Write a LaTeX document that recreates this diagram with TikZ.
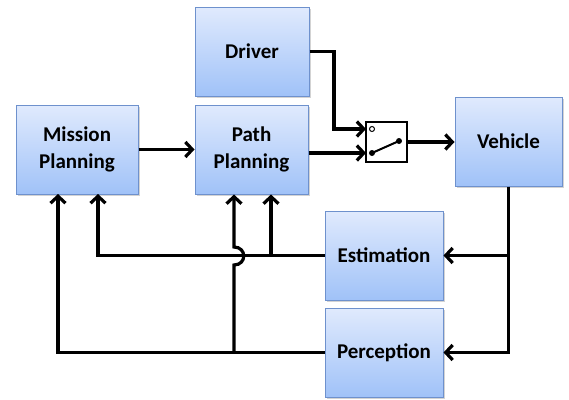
\documentclass[tikz,border=0pt]{standalone}
\usepackage{fontspec}
\setmainfont{Carlito}
\usetikzlibrary{arrows.meta,shadows,calc}
\definecolor{boxtop}{RGB}{224,234,253}
\definecolor{boxbot}{RGB}{160,194,248}
\definecolor{boxline}{RGB}{110,145,205}
\tikzset{
  block/.style={draw=boxline,line width=1pt,top color=boxtop,bottom color=boxbot,
    minimum height=89pt,inner sep=2pt,align=center,
    font=\fontsize{21}{27}\selectfont\bfseries,
    drop shadow={opacity=0.35,shadow xshift=1.5pt,shadow yshift=-1.5pt}},
  wire/.style={line width=3.2pt},
}
\begin{document}
\begin{tikzpicture}[x=1pt,y=-1pt,>={Straight Barb[length=7pt,width=15pt]},wire]
                          \useasboundingbox (0,0) rectangle (569,399);
                          \node[block,minimum width=122pt](mission) at (77,149.5){Mission\\Planning};
                          \node[block,minimum width=113pt](path) at (251.5,149.5){Path\\Planning};
                          \node[block,minimum width=114pt](driver) at (252,51.5){Driver};
                          \node[block,minimum width=107pt](vehicle) at (508.5,141.5){Vehicle};
                          \node[block,minimum width=118pt](estim) at (384,255.5){Estimation};
                          \node[block,minimum width=118pt](percep) at (384,352.5){Perception};
                          % switch
                          \node[draw,fill=white,line width=2pt,minimum width=41pt,minimum height=40pt,inner sep=0pt](switch) at (386.5,142){};
                          \coordinate (swA) at (366,129);
                          \coordinate (swB) at (366,153);
                          \draw[line width=1pt] (372,129) circle (2.5);
                          \fill (372,153) circle (3) (399,141) circle (3);
                          \draw[line width=2pt] (372,153)--(399,141);
                          \draw[->](mission.east)--(path.west);
                          \draw[->](driver.east)--(334,51.5)|-(swA);
                          \draw[->](path.east|-swB)--(swB);
                          \draw[->](switch.east)--(vehicle.west|-switch.east);
                          \draw[->](vehicle.south)|-(percep.east);
                          \draw[->](vehicle.south|-estim.east)--(estim.east);
                          \draw[->](estim.west)-|(98,194);
                          \draw[->](percep.west)-|(58,194);
                          \draw[->](271,256)--(path.south-|271,0);
                          \draw[->](234,353)--(234,265) .. controls (247,265) and (247,247) .. (234,247)--(path.south-|234,0);
                      \end{tikzpicture}
\end{document}
